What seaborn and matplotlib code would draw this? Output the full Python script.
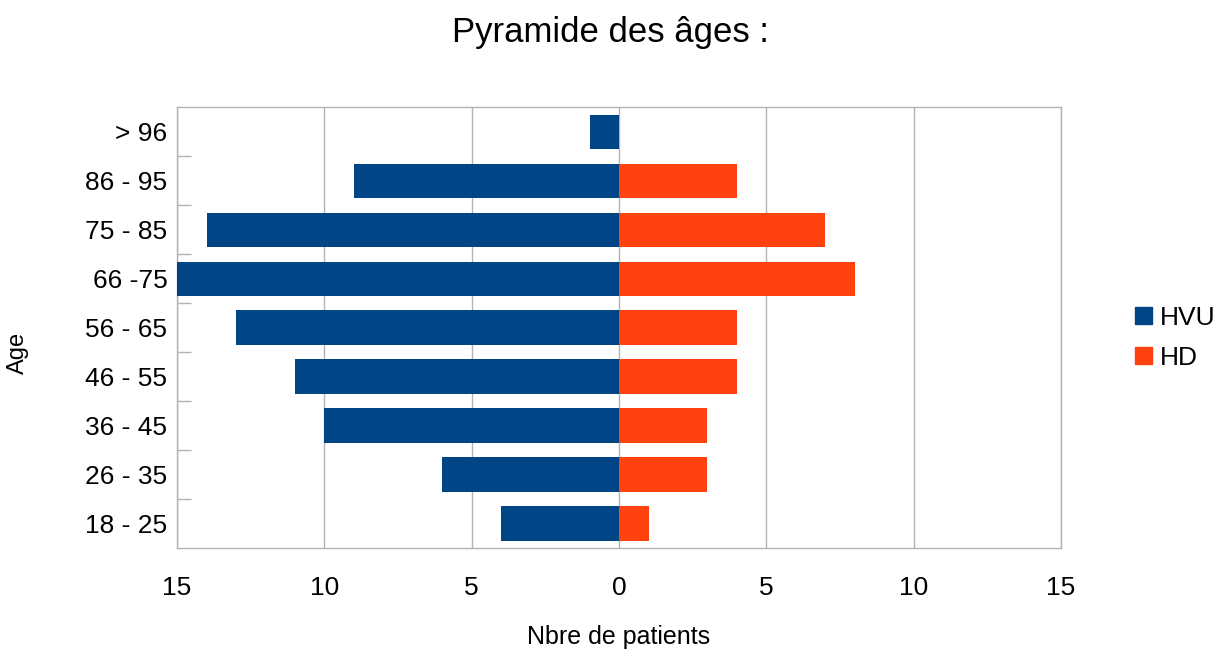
import numpy as np
import pandas as pd
import matplotlib
matplotlib.use("Agg")
import matplotlib.pyplot as plt
import seaborn as sns
from matplotlib.ticker import FuncFormatter

# tranches d'âge, du haut vers le bas
ages = ["> 96", "86 - 95", "75 - 85", "66 -75", "56 - 65",
        "46 - 55", "36 - 45", "26 - 35", "18 - 25"]
hvu = [1, 9, 14, 15, 13, 11, 10, 6, 4]
hd = [0, 4, 7, 8, 4, 4, 3, 3, 1]
groups = ["HVU", "HD"]
colors = ["#004586", "#ff420e"]

df = pd.concat([
    pd.DataFrame({"Age": ages, "n": [-v for v in hvu], "Groupe": "HVU"}),
    pd.DataFrame({"Age": ages, "n": hd, "Groupe": "HD"}),
])

sns.set_style("white")
plt.rcParams["font.family"] = ["Liberation Sans", "DejaVu Sans"]
plt.rcParams["text.color"] = "black"
plt.rcParams["axes.labelcolor"] = "black"
plt.rcParams["xtick.color"] = "black"
plt.rcParams["ytick.color"] = "black"

fig = plt.figure(figsize=(12.21, 6.52), dpi=100)
ax = fig.add_axes([0.145, 0.1595, 0.724, 0.676])

sns.barplot(data=df, y="Age", x="n", hue="Groupe", order=ages,
            hue_order=groups, palette=colors, dodge=False, width=0.7,
            orient="h", saturation=1, ax=ax, legend=False,
            linewidth=0, edgecolor="none", zorder=3)

ax.set_xlim(-15, 15)
ax.set_xticks(np.arange(-15, 16, 5))
ax.xaxis.set_major_formatter(FuncFormatter(lambda v, p: f"{abs(int(v))}"))
ax.set_ylim(len(ages) - 0.5, -0.5)
ax.grid(axis="x", color="#b3b3b3", linewidth=1, zorder=0)
ax.set_axisbelow(True)

ax.tick_params(axis="x", length=0, labelsize=19, pad=20)
ax.tick_params(axis="y", which="major", length=0, labelsize=19, pad=7)
ax.set_yticks(np.arange(0.5, len(ages) - 1, 1), minor=True)
ax.tick_params(axis="y", which="minor", left=True, direction="in",
               length=10, color="#b3b3b3", width=1)

for s in ax.spines.values():
    s.set_color("#b3b3b3")
    s.set_linewidth(1)

ax.set_xlabel("Nbre de patients", fontsize=18, labelpad=18)
ax.set_ylabel("Age", fontsize=17)
ax.yaxis.set_label_coords(-0.167, 0.442)
fig.suptitle("Pyramide des âges :", fontsize=25, y=0.975)

handles = [plt.Rectangle((0, 0), 1, 1, color=c) for c in colors]
fig.legend(handles, groups, loc="center left", bbox_to_anchor=(0.91, 0.482),
           frameon=False, fontsize=19, handlelength=0.65, handleheight=0.65,
           handletextpad=0.3, labelspacing=0.6)

fig.savefig("out.png", dpi=100)
